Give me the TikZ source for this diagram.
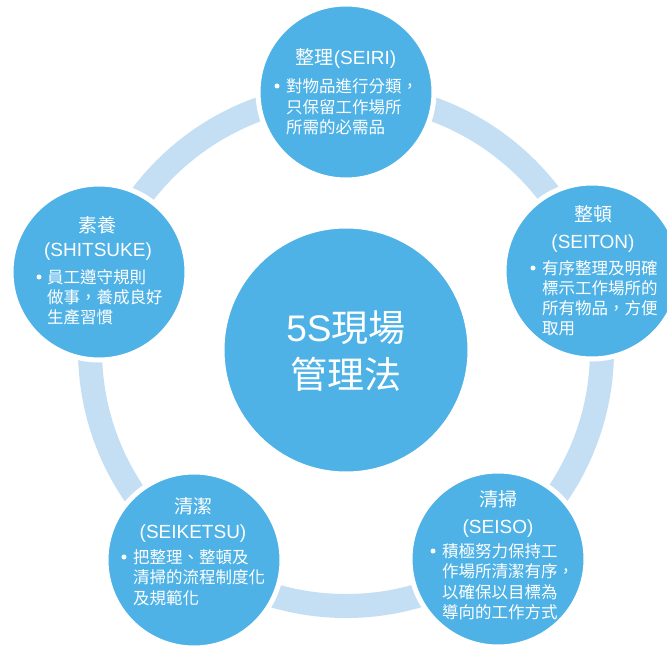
\documentclass[tikz,border=0pt]{standalone}
\usepackage{fontspec}
\setmainfont{Liberation Sans}
\newfontfamily\cjk[Script=CJK,Language=Chinese Traditional]{Noto Sans CJK TC}
\definecolor{circblue}{RGB}{78,178,230}
\definecolor{ringblue}{RGB}{196,223,244}
\tikzset{
  satcircle/.style={circle, fill=circblue, draw=white, line width=5pt, minimum size=176pt, inner sep=0pt},
  hubcircle/.style={circle, fill=circblue, draw=white, line width=3pt, minimum size=246pt, inner sep=0pt},
  ringband/.style={draw=ringblue, line width=24pt},
  titletext/.style={text=white, align=center, inner sep=0pt, font=\fontsize{19}{26}\selectfont},
  bodytext/.style={text=white, align=left, anchor=west, inner sep=0pt, font=\cjk\fontsize{16.5}{20.5}\selectfont},
  bullettext/.style={circle, fill=white, inner sep=0pt, minimum size=5pt},
  hubtext/.style={text=white, align=center, inner sep=0pt, font=\fontsize{37}{47}\selectfont}
}
\begin{document}
\begin{tikzpicture}[x=1pt,y=-1pt]
\useasboundingbox (0,0) rectangle (667,647);
\fill[white] (0,0) rectangle (667,647);
\coordinate (o) at (346,350);
\draw[ringband] (o) circle (256);
% satellites
\node[satcircle] (seiri) at (346,92) {};
\node[satcircle] (seiton) at (592,271) {};
\node[satcircle] (seiso) at (498,559) {};
\node[satcircle] (seiketsu) at (194,560) {};
\node[satcircle] (shitsuke) at (99,272) {};
\node[hubcircle] (hub) at (o) {};
% hub text
\node[hubtext] (hubt) at (346,351.5) {5S{\cjk 現場}\\{\cjk 管理法}};
% SEIRI
\node[titletext] (t1) at (346,58) {{\cjk 整理}(SEIRI)};
\node[bullettext] (b1) at (277,86) {};
\node[bodytext] (x1) at (286,107) {對物品進行分類，\\只保留工作場所\\所需的必需品};
% SEITON
\node[titletext, font=\fontsize{19}{27}\selectfont] (t2) at (593,228.5) {{\cjk 整頓}\\(SEITON)};
\node[bullettext] (b2) at (533,268) {};
\node[bodytext, font=\cjk\fontsize{16.5}{20}\selectfont] (x2) at (542,298) {有序整理及明確\\標示工作場所的\\所有物品，方便\\取用};
% SEISO
\node[titletext, font=\fontsize{19}{27}\selectfont] (t3) at (498,513.5) {{\cjk 清掃}\\(SEISO)};
\node[bullettext] (b3) at (433,551) {};
\node[bodytext] (x3) at (442,581.5) {積極努力保持工\\作場所清潔有序，\\以確保以目標為\\導向的工作方式};
% SEIKETSU
\node[titletext, font=\fontsize{19}{25}\selectfont] (t4) at (193,519.5) {{\cjk 清潔}\\(SEIKETSU)};
\node[bullettext] (b4) at (124,557) {};
\node[bodytext] (x4) at (133,577.5) {把整理、整頓及\\清掃的流程制度化\\及規範化};
% SHITSUKE
\node[titletext, font=\fontsize{19}{24}\selectfont] (t5) at (98,238.5) {{\cjk 素養}\\(SHITSUKE)};
\node[bullettext] (b5) at (39,277) {};
\node[bodytext, font=\cjk\fontsize{16.5}{20}\selectfont] (x5) at (47,297) {員工遵守規則\\做事，養成良好\\生產習慣};
\end{tikzpicture}
\end{document}
